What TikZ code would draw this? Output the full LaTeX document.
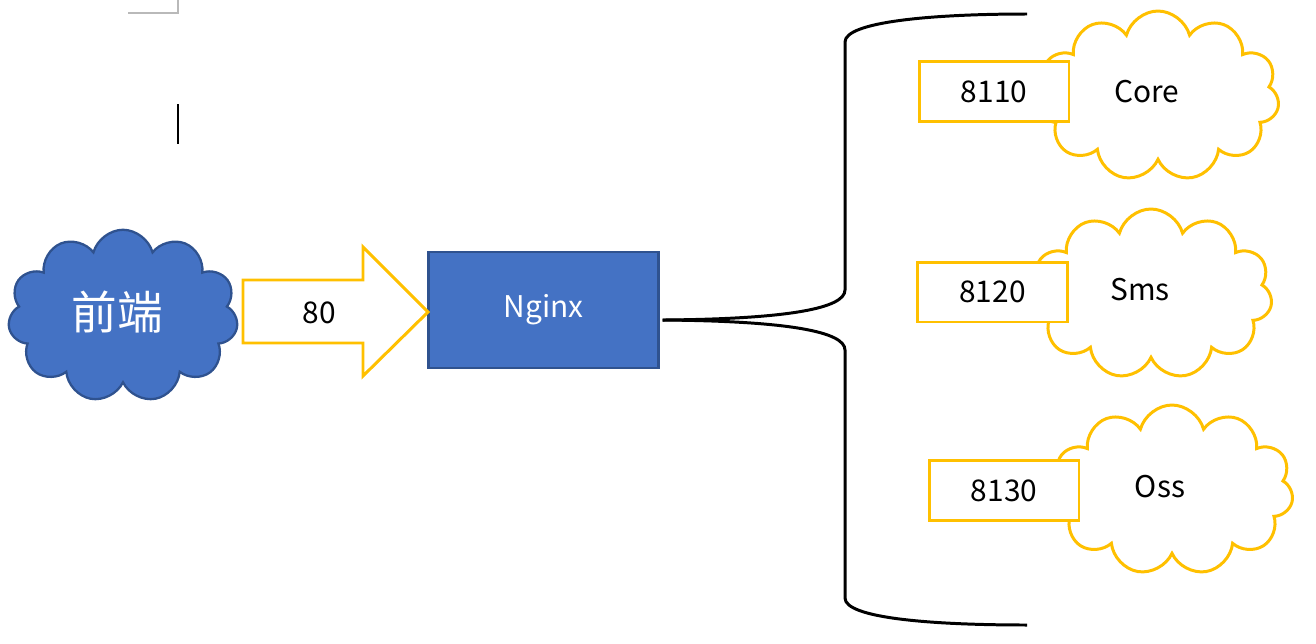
\documentclass[tikz,border=0pt]{standalone}
\usepackage{fontspec}
\setmainfont{Noto Sans CJK SC}
\usetikzlibrary{shapes.symbols}
\definecolor{officeblue}{HTML}{4472C4}
\definecolor{officeedge}{HTML}{2F528F}
\definecolor{officegold}{HTML}{FFC000}

\begin{document}
\begin{tikzpicture}[x=0.02cm,y=-0.02cm,font=\fontsize{17}{20}\selectfont,
    bluecloud/.style={cloud,cloud puffs=11,cloud ignores aspect,fill=officeblue,draw=officeedge,line width=1.3pt,minimum width=4.6cm,minimum height=3.45cm,inner sep=0pt},
    goldcloud/.style={cloud,cloud puffs=11,cloud ignores aspect,fill=white,draw=officegold,line width=1.7pt,minimum width=4.85cm,minimum height=3.4cm,inner sep=0pt},
    portbox/.style={draw=officegold,fill=white,line width=1.7pt,minimum width=3.0cm,minimum height=1.2cm,inner sep=0pt},
    brace/.style={line width=1.7pt,black}]
    \useasboundingbox (0,0) rectangle (1316,643);

    % marks in the upper left corner
    \draw[gray!55,line width=0.8pt] (128,13) -- (178,13) -- (178,0);
    \draw[line width=0.8pt] (178,104) -- (178,144);

    % front end and nginx
    \node[bluecloud] (frontend) at (123,316) {};
    \node[text=white,font=\fontsize{26}{30}\selectfont] (frontendlabel) at (117,312) {前端};
    \node[fill=officeblue,draw=officeedge,line width=1.3pt,minimum width=4.6cm,minimum height=2.32cm,text=white] (nginx) at (543.5,310) {Nginx};

    % port 80 arrow
    \draw[officegold,line width=1.7pt,fill=white] (243,280) -- (363,280) -- (363,247) -- (428,312)
        -- (363,376) -- (363,343) -- (243,343) -- cycle;
    \node (port80) at (319,313) {80};

    % services
    \node[goldcloud] (core) at (1158,96) {};
    \node[goldcloud] (sms) at (1151,294) {};
    \node[goldcloud] (oss) at (1172,490) {};
    \node (corelabel) at (1147,92) {Core};
    \node (smslabel) at (1140,290) {Sms};
    \node (osslabel) at (1160,487) {Oss};

    \node[portbox] (p8110) at (994,91.5) {8110};
    \node[portbox] (p8120) at (992.5,292) {8120};
    \node[portbox] (p8130) at (1004,490.5) {8130};

    % brace from nginx to the services
    \coordinate (split) at ([xshift=1.7pt,yshift=-5.7pt]nginx.east);
    \draw[brace] (split) .. controls (790,319) and (845,308) .. (845,290) -- (845,42)
        .. controls (845,22) and (930,14) .. (1027,14);
    \draw[brace] (split) .. controls (790,321) and (845,332) .. (845,350) -- (845,598)
        .. controls (845,618) and (930,625) .. (1027,625);
\end{tikzpicture}
\end{document}
